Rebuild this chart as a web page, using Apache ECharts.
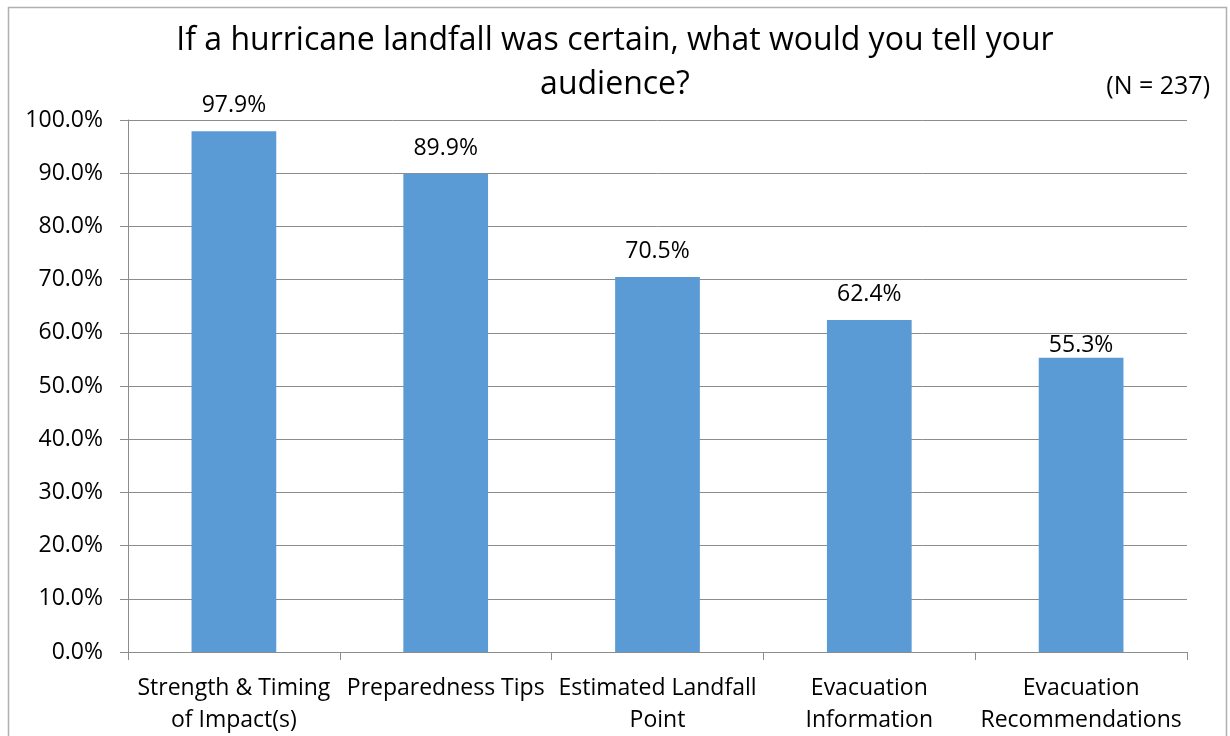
<!DOCTYPE html>
<html>
<head>
<meta charset="utf-8">
<script src="https://cdn.jsdelivr.net/npm/echarts@6/dist/echarts.min.js"></script>
<style>
html,body{margin:0;padding:0;background:#fff;}
#c{width:1230px;height:736px;}
</style>
</head>
<body>
<div id="c"></div>
<script>
const categories = ["Strength & Timing\nof Impact(s)", "Preparedness Tips", "Estimated Landfall\nPoint", "Evacuation\nInformation", "Evacuation\nRecommendations"];
const values = [97.9, 89.9, 70.5, 62.4, 55.3];
const titleText = "If a hurricane landfall was certain, what would you tell your\naudience?";
const noteText = "(N = 237)";

const font = "'Open Sans', 'Noto Sans', sans-serif";
const chart = echarts.init(document.getElementById('c'));
chart.setOption({
  animation: false,
  backgroundColor: '#fff',
  textStyle: { fontFamily: font },
  title: {
    text: titleText,
    left: 'center',
    top: 14,
    textStyle: { fontFamily: font, fontSize: 32, fontWeight: 'normal', color: '#000', lineHeight: 44 }
  },
  graphic: [
    { type: 'rect', shape: { x: 8.5, y: 7.5, width: 1218, height: 740 }, style: { fill: 'none', stroke: '#b0b0b0', lineWidth: 1.5 }, silent: true },
    { type: 'text', right: 20, top: 74, style: { text: noteText, font: "25px 'Open Sans', sans-serif", fill: '#000' } }
  ],
  grid: { left: 128, right: 43, top: 120, bottom: 83, containLabel: false },
  xAxis: {
    type: 'category',
    data: categories,
    axisLine: { lineStyle: { color: '#8c8c8c', width: 1 } },
    axisTick: { show: true, length: 8, lineStyle: { color: '#8c8c8c' } },
    axisLabel: { color: '#000', fontSize: 23, lineHeight: 32, margin: 20, interval: 0, fontFamily: font }
  },
  yAxis: {
    type: 'value',
    min: 0, max: 100, interval: 10,
    axisLine: { show: true, lineStyle: { color: '#8c8c8c' } },
    axisTick: { show: true, length: 8, lineStyle: { color: '#8c8c8c' } },
    axisLabel: { color: '#000', fontSize: 23, margin: 25, fontFamily: font, formatter: v => v.toFixed(1) + '%' },
    splitLine: { lineStyle: { color: '#8c8c8c', width: 1 } }
  },
  series: [{
    type: 'bar',
    data: values.map((v, i) => i === values.length - 1 ? { value: v, label: { distance: 1 } } : v),
    barWidth: '40%',
    itemStyle: { color: '#5b9bd5' },
    label: { show: true, position: 'top', distance: 14, color: '#000', fontSize: 23, fontFamily: font, formatter: p => p.value.toFixed(1) + '%' }
  }]
});
</script>
</body>
</html>
